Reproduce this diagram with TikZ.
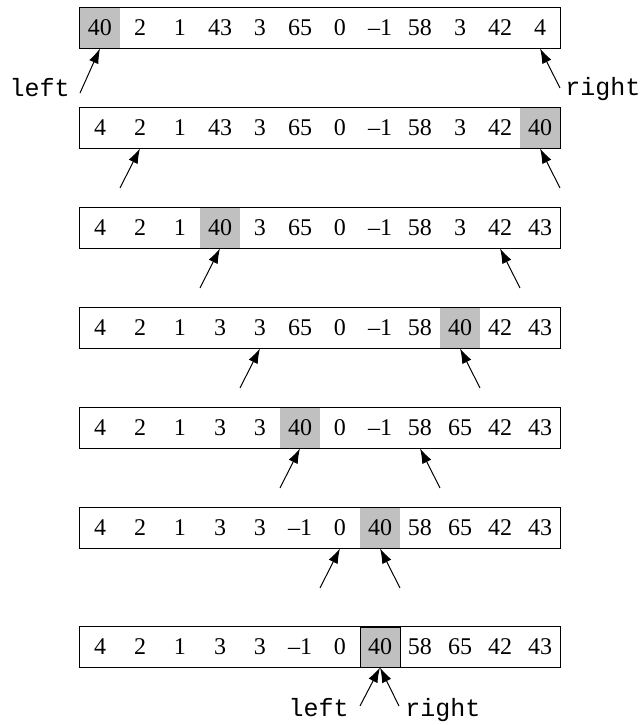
\documentclass[tikz,border=0pt]{standalone}
\usepackage{fontspec}
\setmainfont{Liberation Serif}
\setmonofont{Liberation Mono}
\usetikzlibrary{arrows.meta}

\definecolor{cellgray}{RGB}{192,192,192}

\tikzset{
  cell/.style={minimum width=20pt, minimum height=20pt, inner sep=0pt,
    font=\fontsize{12}{14}\selectfont},
  pivot/.style={cell, fill=cellgray},
  lastpivot/.style={pivot, draw, line width=0.5pt},
  arrbox/.style={draw, line width=0.5pt},
  ptr/.style={-{Latex[length=7.5pt,width=5pt]}, line width=0.5pt},
  lbl/.style={font=\fontsize{12.5}{14}\selectfont\ttfamily, inner sep=0pt},
}

% one row of the array: name, y of centre, shaded cell, style of it, values
\newcommand\quickrow[5]{%
  \foreach \v [count=\i] in {#5} {%
    \ifnum\i=#3\relax\def\sty{#4}\else\def\sty{cell}\fi
    \node[\sty] (#1-\i) at (60+40*\i,#2) {\v};
  }
  \draw[arrbox] (#1-1.north west) rectangle (#1-12.south east);
}

\begin{document}
\begin{tikzpicture}[x=0.5pt,y=-0.5pt]
\useasboundingbox (0,0) rectangle (644,725);

\quickrow{r1}{28}{1}{pivot}{40,2,1,43,3,65,0,--1,58,3,42,4}
\quickrow{r2}{128}{12}{pivot}{4,2,1,43,3,65,0,--1,58,3,42,40}
\quickrow{r3}{228}{4}{pivot}{4,2,1,40,3,65,0,--1,58,3,42,43}
\quickrow{r4}{328}{10}{pivot}{4,2,1,3,3,65,0,--1,58,40,42,43}
\quickrow{r5}{428}{6}{pivot}{4,2,1,3,3,40,0,--1,58,65,42,43}
\quickrow{r6}{528}{8}{pivot}{4,2,1,3,3,--1,0,40,58,65,42,43}
\quickrow{r7}{647}{8}{lastpivot}{4,2,1,3,3,--1,0,40,58,65,42,43}

% tails of the pointers
\coordinate (t1l) at (80,93);
\coordinate (t1r) at (560,88);
\coordinate (t2l) at (120,188);
\coordinate (t2r) at (560,188);
\coordinate (t3l) at (200,288);
\coordinate (t3r) at (520,288);
\coordinate (t4l) at (240,388);
\coordinate (t4r) at (480,388);
\coordinate (t5l) at (280,488);
\coordinate (t5r) at (440,488);
\coordinate (t6l) at (320,588);
\coordinate (t6r) at (400,588);
\coordinate (t7l) at (360,706);
\coordinate (t7r) at (399,706);

\draw [ptr] (t1l) -- (r1-1.south);
\draw [ptr] (t1r) -- (r1-12.south);
\draw [ptr] (t2l) -- (r2-2.south);
\draw [ptr] (t2r) -- (r2-12.south);
\draw [ptr] (t3l) -- (r3-4.south);
\draw [ptr] (t3r) -- (r3-11.south);
\draw [ptr] (t4l) -- (r4-5.south);
\draw [ptr] (t4r) -- (r4-10.south);
\draw [ptr] (t5l) -- (r5-6.south);
\draw [ptr] (t5r) -- (r5-9.south);
\draw [ptr] (t6l) -- (r6-7.south);
\draw [ptr] (t6r) -- (r6-8.south);
\draw [ptr] (t7l) -- (r7-8.south);
\draw [ptr] (t7r) -- (r7-8.south);

\node[lbl, anchor=base east] (left1) at (70,96.5) {left};
\node[lbl, anchor=base west] (right1) at (565,95) {right};
\node[lbl, anchor=base east] (left7) at (349,716) {left};
\node[lbl, anchor=base west] (right7) at (405,716) {right};

\end{tikzpicture}
\end{document}
